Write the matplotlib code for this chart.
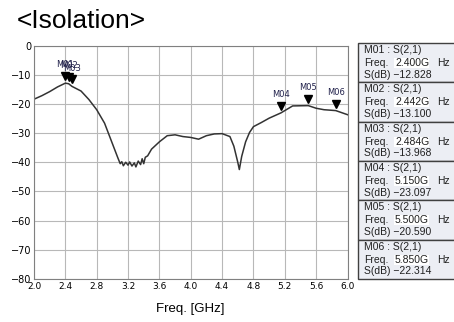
import matplotlib
matplotlib.use("Agg")
import matplotlib.pyplot as plt
from matplotlib.patches import Rectangle

# S(2,1) trace (GHz, dB)
freq = [2.0, 2.1, 2.2, 2.3, 2.4, 2.442, 2.484, 2.6, 2.7, 2.8, 2.9, 2.98,
        3.07, 3.1, 3.12, 3.14, 3.17, 3.2, 3.22, 3.25, 3.28, 3.3, 3.33, 3.36,
        3.38, 3.4, 3.42, 3.45, 3.5, 3.6, 3.7, 3.8, 3.9, 4.0, 4.1, 4.2, 4.3,
        4.4, 4.5, 4.55, 4.6, 4.62, 4.65, 4.7, 4.75, 4.8, 4.9, 5.0, 5.15,
        5.3, 5.5, 5.6, 5.7, 5.85, 6.0]
sdb = [-18.4, -17.2, -15.8, -14.2, -12.9, -13.1, -14.0, -15.6, -18.5, -22.0,
       -26.6, -32.2, -38.5, -40.5, -39.8, -41.2, -40.0, -41.0, -39.9, -41.3,
       -40.2, -41.6, -39.6, -40.8, -38.8, -40.5, -38.3, -37.8, -35.5, -33.0,
       -30.9, -30.6, -31.2, -31.5, -32.1, -30.9, -30.3, -30.2, -31.2, -34.5,
       -40.0, -42.5, -38.0, -33.0, -29.8, -27.8, -26.4, -24.9, -23.1, -20.7,
       -20.6, -21.5, -22.0, -22.3, -23.7]

mk_names = ["M01", "M02", "M03", "M04", "M05", "M06"]
mk_freq = [2.400, 2.442, 2.484, 5.150, 5.500, 5.850]
mk_db = [-12.828, -13.100, -13.968, -23.097, -20.590, -22.314]

xticks = [2.0, 2.4, 2.8, 3.2, 3.6, 4.0, 4.4, 4.8, 5.2, 5.6, 6.0]
yticks = [0, -10, -20, -30, -40, -50, -60, -70, -80]

fig = plt.figure(figsize=(4.54, 3.22), dpi=100)
ax = fig.add_axes([34 / 454, 1 - 279 / 322, 313.5 / 454, 233.5 / 322])

ax.plot(freq, sdb, c="#333333", lw=1.1)
for n, f, d in zip(mk_names, mk_freq, mk_db):
    ax.plot(f, d + 2.4, marker="v", ms=5.5, c="black", ls="none")
    ax.text(f, d + 6.2, n, ha="center", va="center", fontsize=6,
            color="#20204a")

ax.set_xlim(2.0, 6.0); ax.set_ylim(-80, 0)
ax.set_xticks(xticks); ax.set_yticks(yticks)
ax.set_xticklabels([f"{t:.1f}" for t in xticks], fontsize=6.5)
ax.set_yticklabels([f"{t}".replace("-", "\u2212") for t in yticks], fontsize=7)
ax.tick_params(length=0, pad=2)
ax.grid(c="#b8b8b8", lw=0.8)
for s in ax.spines.values():
    s.set_color("#808080")
ax.set_xlabel("Freq. [GHz]", fontsize=9.5, family="Liberation Sans",
              labelpad=9)

fig.text(17 / 454, 1 - 21 / 322, "<Isolation>", fontsize=19,
         family="Liberation Sans", va="center", ha="left")

# marker readout table
tb = fig.add_axes([357 / 454, 1 - 279 / 322, 97 / 454, 236 / 322])
tb.set_xlim(0, 97); tb.set_ylim(236, 0); tb.axis("off")
bh = 236 / len(mk_names)
for i, (n, f, d) in enumerate(zip(mk_names, mk_freq, mk_db)):
    y0 = i * bh
    tb.add_patch(Rectangle((0.5, y0), 97, bh, fc="#eceef4", ec="#404040",
                           lw=1.0, clip_on=False))
    tb.add_patch(Rectangle((37, y0 + 15), 35, 10, fc="white", ec="none"))
    kw = dict(fontsize=7.5, family="Liberation Sans", va="center", ha="left",
              color="#202020")
    tb.text(7, y0 + 7, f"{n} : S(2,1)", **kw)
    tb.text(7, y0 + 20, "Freq.", **kw)
    tb.text(38, y0 + 20, f"{f:.3f}G", **kw)
    tb.text(80, y0 + 20, "Hz", **kw)
    tb.text(7, y0 + 31.5, "S(dB) " + f"{d:.3f}".replace("-", "\u2212"), **kw)

fig.savefig("out.png", dpi=100)
